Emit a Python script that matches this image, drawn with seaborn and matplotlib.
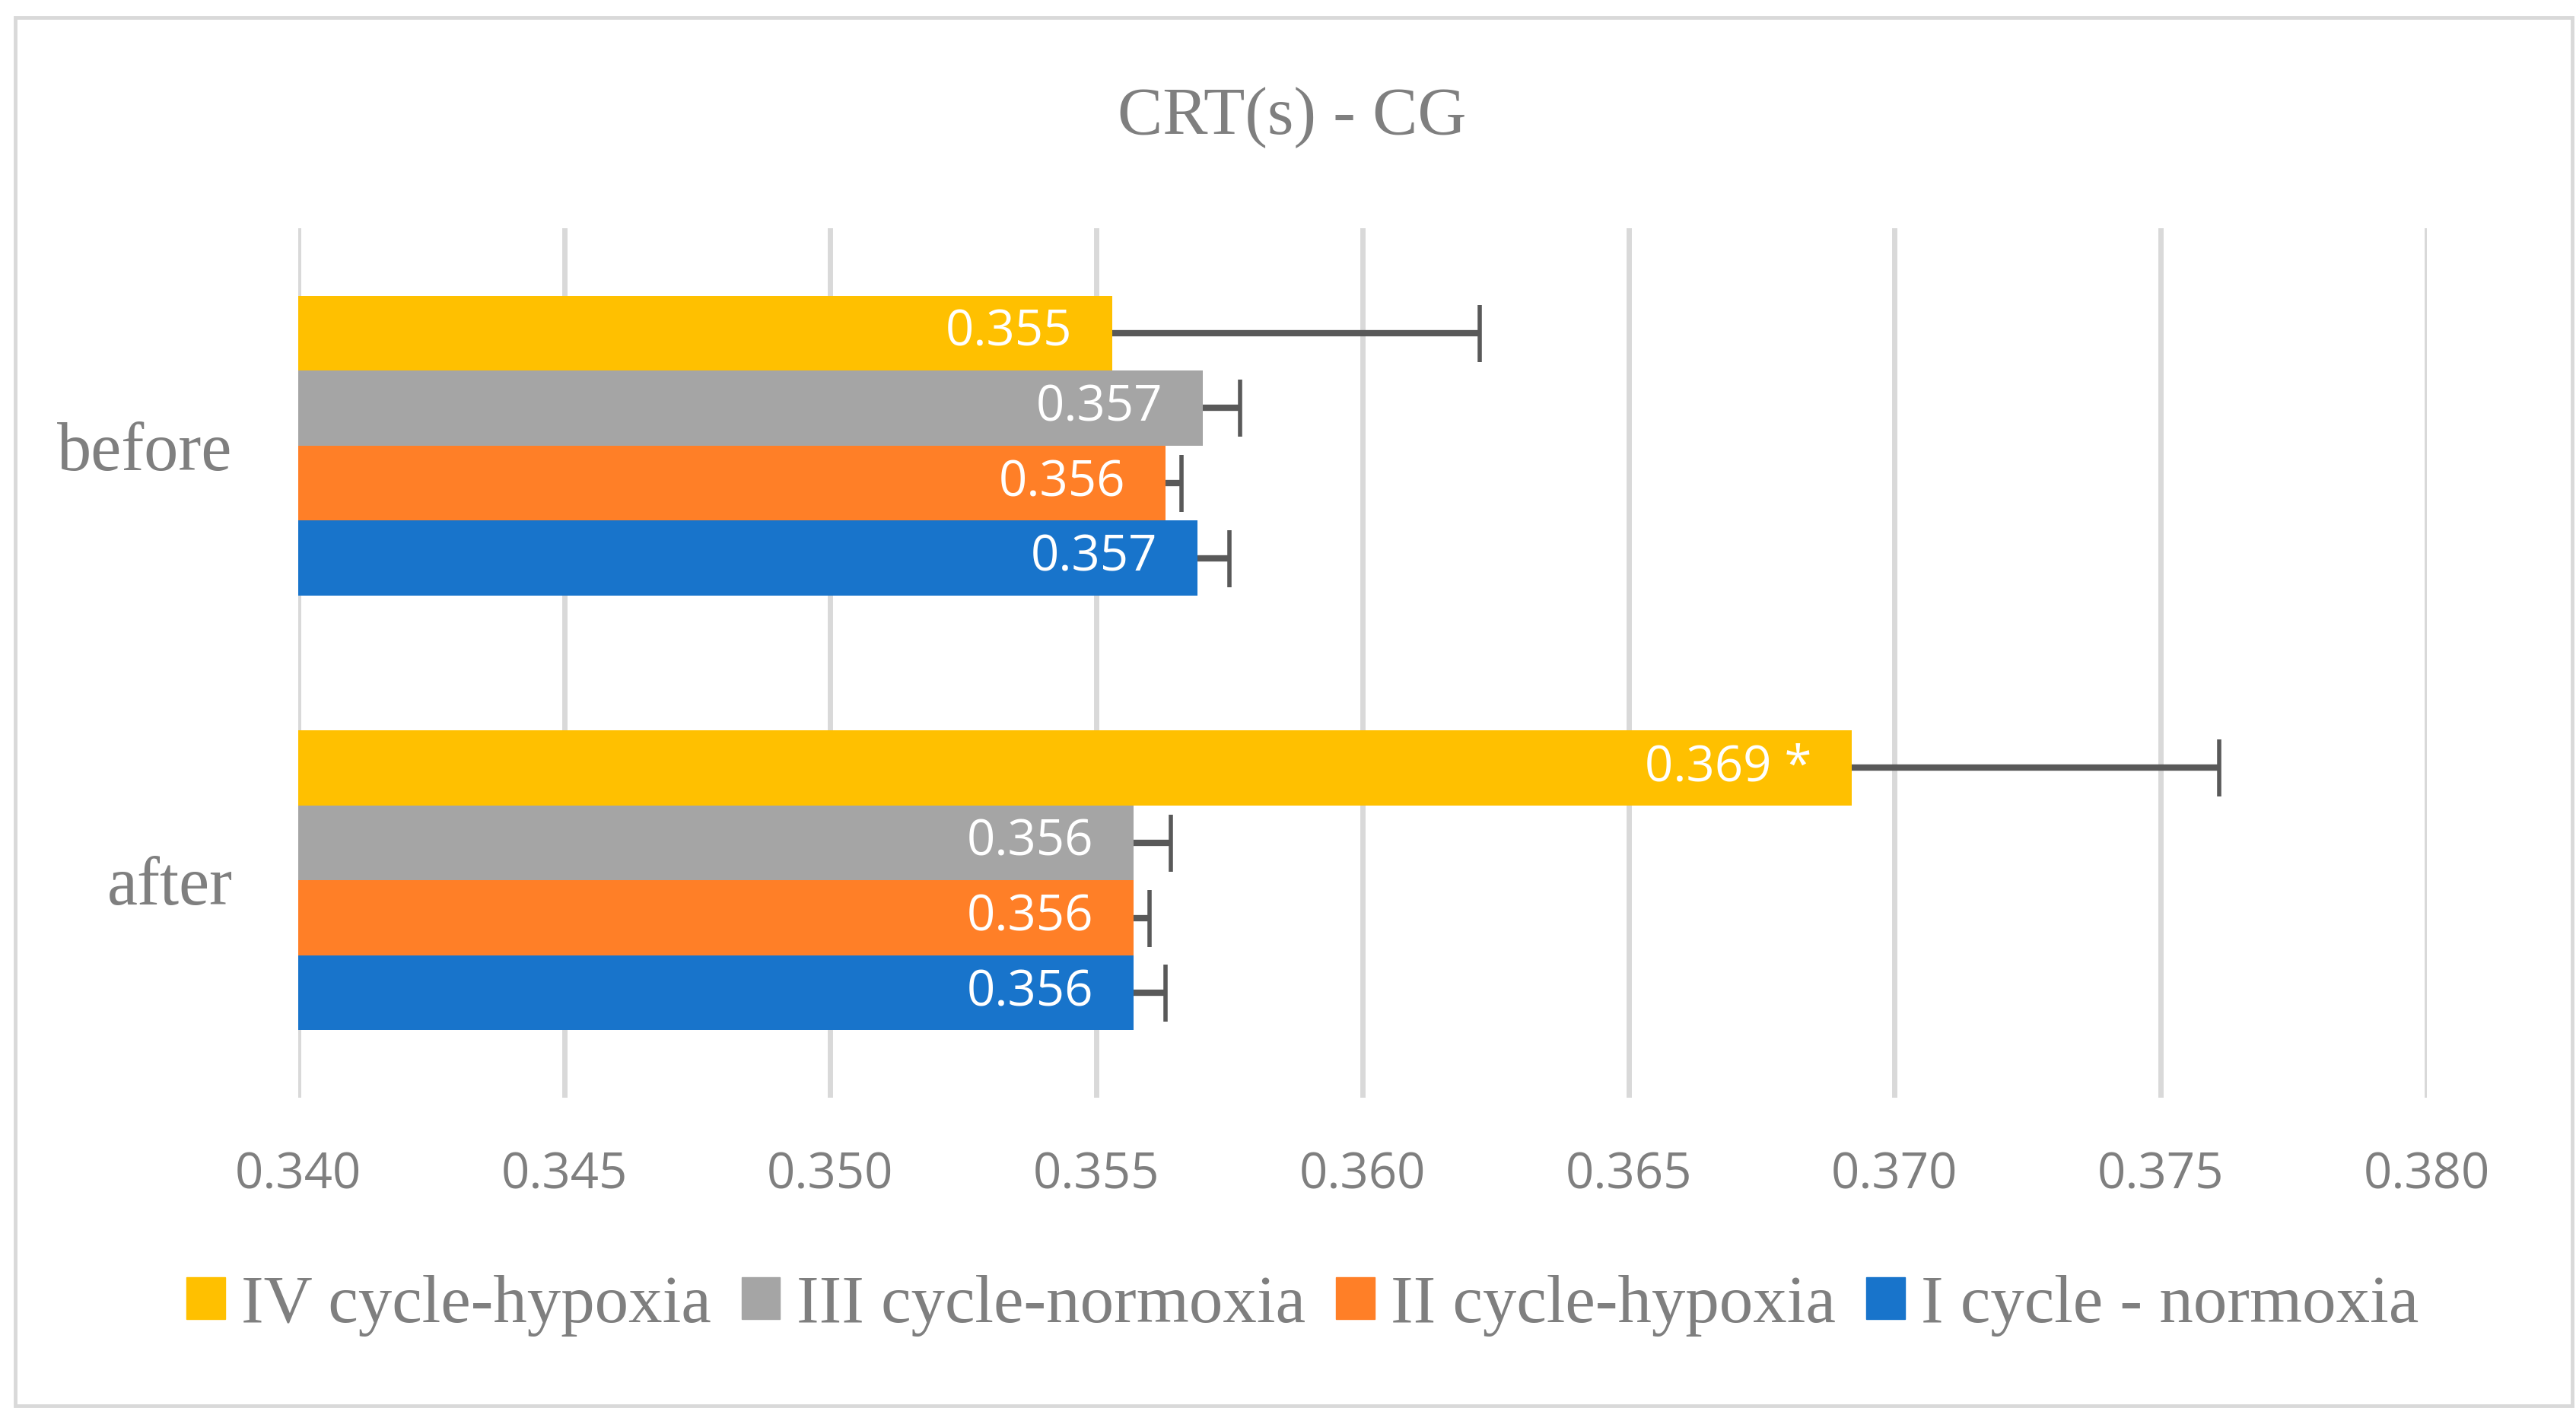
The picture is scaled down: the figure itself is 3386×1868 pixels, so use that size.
import pandas as pd
import matplotlib.pyplot as plt
import seaborn as sns
from matplotlib.patches import Rectangle

# Datos del gráfico
momentos = ["before", "after"]
ciclos = ["IV cycle-hypoxia", "III cycle-normoxia", "II cycle-hypoxia", "I cycle - normoxia"]
colores = ["#FFC000", "#A5A5A5", "#FF7F27", "#1874CB"]

crt_before = [0.3553, 0.3570, 0.3563, 0.3569]
crt_after = [0.3692, 0.3557, 0.3557, 0.3557]
err_before = [0.0069, 0.0007, 0.0003, 0.0006]
err_after = [0.0069, 0.0007, 0.0003, 0.0006]
etiquetas_before = ["0.355", "0.357", "0.356", "0.357"]
etiquetas_after = ["0.369 *", "0.356", "0.356", "0.356"]

ticks_x = [0.340, 0.345, 0.350, 0.355, 0.360, 0.365, 0.370, 0.375, 0.380]

GRIS_TEXTO = "#7F7F7F"
GRIS_LINEA = "#D9D9D9"


def construir_tabla():
    filas = []
    for ciclo, v, e, t in zip(ciclos, crt_before, err_before, etiquetas_before):
        filas.append({"momento": "before", "ciclo": ciclo, "crt": v, "err": e, "etiqueta": t})
    for ciclo, v, e, t in zip(ciclos, crt_after, err_after, etiquetas_after):
        filas.append({"momento": "after", "ciclo": ciclo, "crt": v, "err": e, "etiqueta": t})
    return pd.DataFrame(filas)


def main():
    df = construir_tabla()

    sns.set_style("white")
    plt.rcParams["font.family"] = ["Liberation Serif", "DejaVu Serif"]

    fig = plt.figure(figsize=(33.87, 18.68), dpi=100)
    ax = fig.add_axes([0.1157, 0.2275, 0.8261, 0.6119])

    sns.barplot(
        data=df, x="crt", y="momento", hue="ciclo",
        order=momentos, hue_order=ciclos, palette=colores,
        orient="h", width=0.69, errorbar=None, saturation=1,
        linewidth=0, legend=False, ax=ax,
    )

    # Barras de error (solo hacia la derecha) y etiquetas dentro de cada barra
    for ciclo, cont in zip(ciclos, ax.containers):
        for momento, barra in zip(momentos, cont):
            fila = df[(df["ciclo"] == ciclo) & (df["momento"] == momento)].iloc[0]
            yc = barra.get_y() + barra.get_height() / 2
            xe = barra.get_x() + barra.get_width()
            _, caps, _ = ax.errorbar(xe, yc, xerr=[[0], [fila["err"]]], fmt="none",
                                     ecolor="#595959", elinewidth=6, capsize=27,
                                     capthick=4, zorder=4)
            for cap in caps:
                if abs(cap.get_xdata()[0] - xe) < 1e-12:
                    cap.set_visible(False)
            ax.annotate(fila["etiqueta"], xy=(xe, yc), xytext=(-38, 0),
                        textcoords="offset points", ha="right", va="center",
                        color="white", fontsize=47, family=["Open Sans", "DejaVu Sans"],
                        zorder=5)

    ax.set_xlim(0.340, 0.380)
    ax.set_ylim(1.5, -0.5)
    ax.set_xticks(ticks_x)
    ax.set_xticklabels([f"{t:.3f}" for t in ticks_x], family=["Open Sans", "DejaVu Sans"],
                       fontsize=47, color=GRIS_TEXTO)
    ax.tick_params(axis="x", length=0, pad=50)
    ax.tick_params(axis="y", length=0, pad=62, labelsize=65, labelcolor=GRIS_TEXTO)
    ax.set_xlabel("")
    ax.set_ylabel("")
    ax.grid(axis="x", color=GRIS_LINEA, linewidth=5)
    ax.set_axisbelow(True)
    for lado in ax.spines.values():
        lado.set_visible(False)

    fig.text(0.5015, 0.9175, "CRT(s) - CG", ha="center", va="center",
             fontsize=64, color=GRIS_TEXTO)

    handles = [plt.Rectangle((0, 0), 1, 1, color=c) for c in colores]
    fig.legend(handles, ciclos, loc="center", bbox_to_anchor=(0.5055, 0.081), ncol=4,
               frameon=False, fontsize=64, labelcolor=GRIS_TEXTO,
               handlelength=0.57, handleheight=0.57, handletextpad=0.24,
               columnspacing=0.45, borderaxespad=0)

    fig.patches.append(Rectangle((20 / 3387, 1 - 1848 / 1868), 3361 / 3387, 1825 / 1868,
                                 transform=fig.transFigure, fill=False,
                                 edgecolor=GRIS_LINEA, linewidth=3.5))

    fig.savefig("out.png", dpi=100, facecolor="white")
    plt.close(fig)


if __name__ == "__main__":
    main()
